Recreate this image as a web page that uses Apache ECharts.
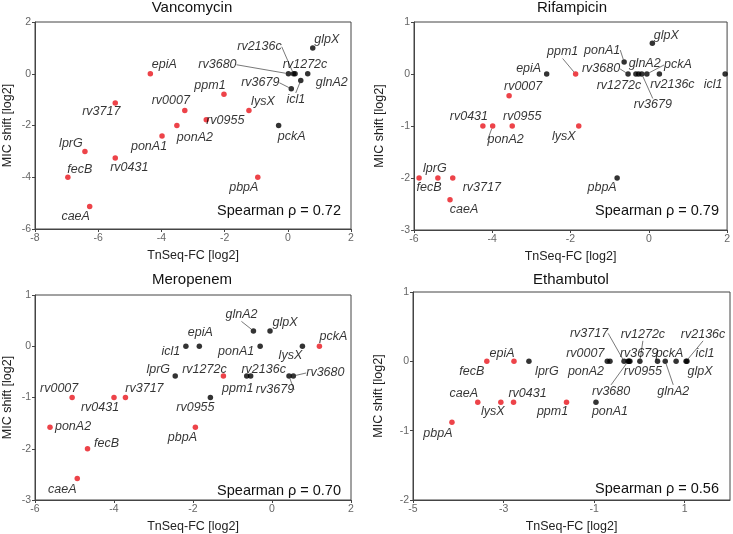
<!DOCTYPE html>
<html><head><meta charset="utf-8">
<script src="https://cdn.jsdelivr.net/npm/echarts@6/dist/echarts.min.js"></script>
<style>html,body{margin:0;padding:0;background:#fff}#c{width:733px;height:534px}</style>
</head><body><div id="c"></div>
<script>
// ---------------- DATA ----------------
const genes = ['epiA','rv3717','lprG','fecB','caeA','rv0431','ponA1','ponA2','rv0007','rv0955','ppm1','lysX','pbpA','pckA','glpX','rv3680','rv2136c','rv1272c','glnA2','icl1','rv3679'];

const titles = ['Vancomycin','Rifampicin','Meropenem','Ethambutol'];
const rhoValues = ['0.72','0.79','0.70','0.56'];

const vancoX = [-4.35,-5.46,-6.42,-6.96,-6.27,-5.46,-3.98,-3.51,-3.26,-2.58,-2.02,-1.23,-0.95,-0.29,0.79,0.02,0.18,0.23,0.63,0.41,0.11];
const vancoY = [0,-1.13,-3.0,-4.0,-5.13,-3.26,-2.41,-2.0,-1.42,-1.78,-0.79,-1.42,-4.0,-2.0,1.0,0,0,0,0,-0.26,-0.58];
const vancoSig = [1,1,1,1,1,1,1,1,1,1,1,1,1,0,0,0,0,0,0,0,0];

const rifX = [-2.61,-5.01,-5.39,-5.87,-5.08,-4.24,-0.63,-3.99,-3.57,-3.49,-1.87,-1.79,-0.81,-0.05,0.09,-0.53,0.27,-0.33,-0.26,1.95,-0.18];
const rifY = [0,-2,-2,-2,-2.42,-1,0.23,-1,-0.42,-1,0,-1,-2,0,0.59,0,0,0,0,0,0];
const rifSig = [0,1,1,1,1,1,0,1,1,1,1,1,0,0,0,0,0,0,0,0,0];

const meroX = [-1.84,-3.71,-2.45,-4.67,-4.93,-4.0,-0.30,-5.62,-5.06,-1.56,-0.64,0.77,-1.94,1.20,-0.05,0.54,-0.54,-1.23,-0.47,-2.18,0.43];
const meroY = [0,-1,-0.58,-2,-2.58,-1,0,-1.58,-1,-1,-0.58,0,-1.58,0,0.3,-0.58,-0.58,-0.58,0.3,0,-0.58];
const meroSig = [0,1,0,1,1,1,0,1,1,0,0,0,1,1,0,0,0,1,0,0,0];

const embX = [-2.77,-0.34,-2.44,-3.37,-3.57,-2.78,-0.96,-0.65,-0.71,-0.21,-1.61,-3.06,-4.14,0.40,0.81,-0.25,1.03,0.01,0.57,1.05,-0.23];
const embY = [0,0,0,0,-0.59,-0.59,-0.59,0,0,0,-0.59,-0.59,-0.88,0,0,0,0,0,0,0,0];
const embSig = [1,0,0,1,1,1,0,0,0,0,1,1,1,0,0,0,0,0,0,0,0];

const xTicks = [[-8,-6,-4,-2,0,2],[-6,-4,-2,0,2],[-6,-4,-2,0,2],[-5,-3,-1,1]];
const yTicks = [[-6,-4,-2,0,2],[-3,-2,-1,0,1],[-3,-2,-1,0,1],[-2,-1,0,1]];

// ---------------- LAYOUT / STYLE ----------------
const RED = '#e8141b', BLACK = '#000';
const FONT = 'Liberation Sans, Arial, sans-serif';
const grids = [
  {left:33, top:22, width:318, height:207},
  {left:414, top:22, width:316, height:208},
  {left:33, top:295, width:318, height:207},
  {left:413, top:292, width:317, height:210}
];
const xRange = [[-8,2],[-6,2],[-6,2],[-5,2]];
const yRange = [[-6,2],[-3,1],[-3,1],[-2,1]];
const yNameGap = [21,28,21,28];
// label offsets from point centre: [dx, dy, leaderLine]
const labelOffsets = [
 {glpX:[14,-8],rv2136c:[-34,-27,1],rv3680:[-71,-9,1],rv1272c:[10,-9],glnA2:[24,9],rv3679:[-31,-6,1],icl1:[-5,19,1],pckA:[13,11],lysX:[14,-9],ppm1:[-14,-9],rv0955:[19,1],rv0007:[-14,-10],ponA2:[18,12],ponA1:[-13,10],epiA:[14,-9],rv3717:[-14,9],lprG:[-14,-8],fecB:[12,-8],rv0431:[14,9],caeA:[-14,10],pbpA:[-14,10]},
 {glpX:[14,-8],ponA1:[-22,-12,1],ppm1:[-13,-22,1],epiA:[-18,-5],rv3680:[-27,-5,1],glnA2:[6,-10],pckA:[31,-9,1],rv1272c:[-17,12],rv2136c:[13,11],rv3679:[11,31,1],icl1:[-12,11],rv0007:[14,-9],rv0431:[-14,-9],ponA2:[13,14,1],rv0955:[10,-9],lysX:[-15,11],lprG:[-3,-9],fecB:[10,10],rv3717:[29,10],caeA:[14,10],pbpA:[-15,10]},
 {glnA2:[-12,-16,1],glpX:[15,-8],pckA:[14,-10],epiA:[1,-14],icl1:[-15,5],ponA1:[-24,5],lysX:[-12,9],lprG:[-17,-6],rv1272c:[-19,-6],rv2136c:[13,-6],ppm1:[-9,13],rv3680:[32,-3,1],rv3679:[-14,14,1],rv0955:[-15,10],rv0007:[-13,-9],rv0431:[-14,10],rv3717:[19,-9],ponA2:[23,-1],fecB:[19,-5],caeA:[-15,11],pbpA:[-13,10]},
 {fecB:[-15,10],epiA:[-12,-8],lprG:[18,10],caeA:[-14,-9],lysX:[-8,9],rv0431:[14,-9],ppm1:[-14,9],ponA1:[14,9],pbpA:[-14,11],rv0007:[-22,-8],ponA2:[-24,10],rv3717:[-35,-28,1],rv3679:[10,-8],rv3680:[-17,30,1],rv0955:[13,10],rv1272c:[3,-27,1],pckA:[12,-8],glnA2:[8,30,1],rv2136c:[17,-27,1],icl1:[18,-8],glpX:[24,10]}
];
const titlePos = [[192,0],[572,0],[192,272],[571,272]];
const rhoPos = [[341,211],[719,211],[341,491],[719,489]];

const panelsData = [[vancoX,vancoY,vancoSig],[rifX,rifY,rifSig],[meroX,meroY,meroSig],[embX,embY,embSig]];

const option = {
  animation:false,
  backgroundColor:'#fff',
  textStyle:{fontFamily:FONT},
  title:[], grid:[], xAxis:[], yAxis:[], series:[]
};

panelsData.forEach((p,i)=>{
  const [xs,ys,sig] = p;
  option.title.push({text:titles[i], left:titlePos[i][0], top:titlePos[i][1], textAlign:'center', textVerticalAlign:'top', padding:0,
    textStyle:{fontSize:15,fontWeight:'normal',color:'#111',fontFamily:FONT}});
  option.title.push({text:'Spearman \u03c1 = '+rhoValues[i], left:rhoPos[i][0], top:rhoPos[i][1], textAlign:'right', textVerticalAlign:'middle', padding:0,
    textStyle:{fontSize:14.5,fontWeight:'normal',color:'#111',fontFamily:FONT}});
  option.grid.push(Object.assign({show:true, borderColor:'#444', borderWidth:1, backgroundColor:'transparent'}, grids[i]));
  option.xAxis.push({type:'value', gridIndex:i, min:xRange[i][0], max:xRange[i][1],
    name:'TnSeq-FC [log2]', nameLocation:'middle', nameGap:20,
    nameTextStyle:{fontSize:12.5,color:'#222',fontFamily:FONT},
    axisLine:{show:true,onZero:false,lineStyle:{color:'#444',width:1}},
    axisTick:{show:true,inside:false,length:3,customValues:xTicks[i],lineStyle:{color:'#444'}},
    axisLabel:{customValues:xTicks[i],fontSize:10.5,color:'#666',margin:4,fontFamily:FONT},
    splitLine:{show:false}});
  option.yAxis.push({type:'value', gridIndex:i, min:yRange[i][0], max:yRange[i][1],
    name:'MIC shift [log2]', nameLocation:'middle', nameGap:yNameGap[i], nameRotate:90,
    nameTextStyle:{fontSize:12.5,color:'#222',fontFamily:FONT},
    axisLine:{show:true,onZero:false,lineStyle:{color:'#444',width:1}},
    axisTick:{show:true,inside:false,length:3,customValues:yTicks[i],lineStyle:{color:'#444'}},
    axisLabel:{customValues:yTicks[i],fontSize:10.5,color:'#666',margin:4,fontFamily:FONT},
    splitLine:{show:false}});
  const offs = labelOffsets[i];
  const data = genes.map((g,k)=>{
    const item = {name:g, value:[xs[k],ys[k]], itemStyle:{color: sig[k] ? RED : BLACK}};
    const o = offs[g];
    if (o && o[2]) item.labelLine = {show:true, lineStyle:{color:'#555',width:0.8}};
    return item;
  });
  option.series.push({
    type:'scatter', xAxisIndex:i, yAxisIndex:i, symbol:'circle', symbolSize:5.5,
    data:data,
    label:{show:true, position:'inside', formatter:'{b}', fontSize:12.5, fontStyle:'italic', color:'#000', fontFamily:FONT, align:'center', verticalAlign:'middle'},
    labelLine:{show:false, lineStyle:{color:'#555',width:0.8}},
    labelLayout:function(params){
      const o = offs[genes[params.dataIndex]] || [12,-8];
      return {dx:o[0], dy:o[1]};
    },
    emphasis:{disabled:true}
  });
});

const chart = echarts.init(document.getElementById('c'), null, {renderer:'canvas'});
chart.setOption(option);
</script>
</body></html>
